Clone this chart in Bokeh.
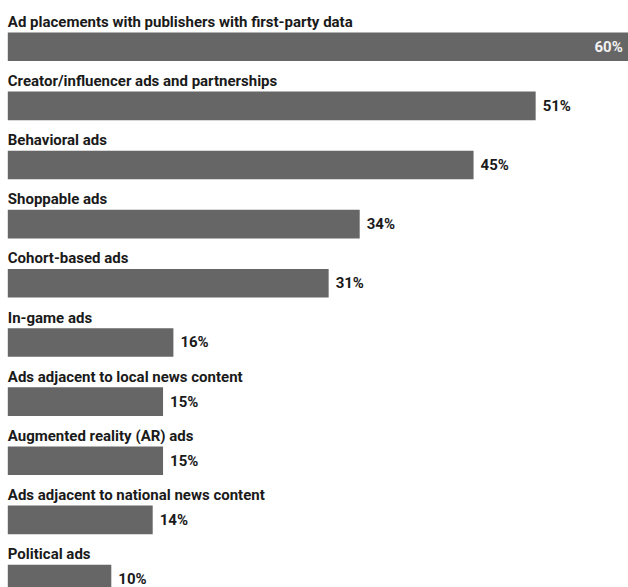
from bokeh.plotting import figure
from bokeh.models import Range1d, ColumnDataSource
from bokeh.core.properties import value
from bokeh.embed import file_html
from bokeh.resources import INLINE

categories = [
    "Ad placements with publishers with first-party data",
    "Creator/influencer ads and partnerships",
    "Behavioral ads",
    "Shoppable ads",
    "Cohort-based ads",
    "In-game ads",
    "Ads adjacent to local news content",
    "Augmented reality (AR) ads",
    "Ads adjacent to national news content",
    "Political ads",
]
values = [60, 51, 45, 34, 31, 16, 15, 15, 14, 10]
value_labels = [f"{v}%" for v in values]

idx = list(range(len(categories)))
src = ColumnDataSource(dict(
    y=idx,
    v=values,
    cat=categories,
    lab=value_labels,
    laby=[i - 0.42 for i in idx],
))

p = figure(width=628, height=587, output_backend="svg", toolbar_location=None,
           x_range=Range1d(-0.705, 59.97), y_range=Range1d(9.143, -0.781),
           min_border=0, outline_line_color=None)
p.axis.visible = False
p.grid.visible = False
p.background_fill_color = "white"
p.border_fill_color = "white"

p.hbar(y="y", left=0, right="v", height=0.4835, source=src,
       fill_color="#666666", line_color=None)

FONT = value("Roboto")
p.text(x=0, y="laby", text="cat", source=src, text_font=FONT,
       text_font_style="bold", text_font_size="15px", text_color="#1a1a1a",
       text_baseline="alphabetic", text_align="left")

outside = ColumnDataSource(dict(x=values[1:], y=idx[1:], t=value_labels[1:]))
p.text(x="x", y="y", text="t", source=outside, x_offset=7, text_font=FONT,
       text_font_style="bold", text_font_size="15px", text_color="#1a1a1a",
       text_baseline="middle", text_align="left")

inside = ColumnDataSource(dict(x=values[:1], y=idx[:1], t=value_labels[:1]))
p.text(x="x", y="y", text="t", source=inside, x_offset=-6, text_font=FONT,
       text_font_style="bold", text_font_size="15px", text_color="#f2f2f2",
       text_baseline="middle", text_align="right")

open("out.html", "w").write(file_html(p, INLINE))
